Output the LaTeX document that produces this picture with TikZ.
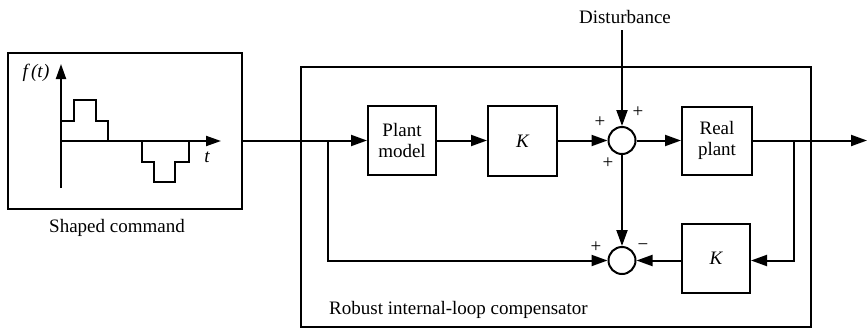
\documentclass[tikz,border=0pt]{standalone}
\usepackage{fontspec}
\setmainfont{Liberation Serif}
\usetikzlibrary{arrows.meta}
\begin{document}
\begin{tikzpicture}[x=1pt,y=-1pt,
  every node/.style={font=\fontsize{19}{21}\selectfont},
  blk/.style={draw,line width=2pt,inner sep=0pt,align=center},
  sumc/.style={draw,circle,line width=2pt,minimum size=27pt,inner sep=0pt},
  arr/.style={line width=2pt,-{Triangle[length=16pt,width=11pt]}},
  lbl/.style={inner sep=0pt}]
\useasboundingbox (0,0) rectangle (867,330);
% boxes
\node[blk,minimum width=234pt,minimum height=156pt] (cmd) at (125,131) {};
\node[blk,minimum width=510pt,minimum height=260pt] (comp) at (556,197) {};
\node[blk,minimum width=68pt,minimum height=69pt] (pm) at (402,140.5) {Plant\\model};
\node[blk,minimum width=69pt,minimum height=70pt] (k1) at (522.5,141) {\itshape K};
\node[sumc] (s1) at (622,140.5) {};
\node[blk,minimum width=70pt,minimum height=68pt] (rp) at (717,140.5) {Real\\plant};
\node[sumc] (s2) at (622,260.5) {};
\node[blk,minimum width=68pt,minimum height=69pt] (k2) at (716,258) {\itshape K};
% labels
\node[lbl] (cmdlbl) at (117,228) {Shaped command};
\node[lbl,anchor=west] (complbl) at (329,310) {Robust internal-loop compensator};
\node[lbl] (dist) at (625,17) {Disturbance};
\coordinate (dtop) at (622,30);
\coordinate (out) at (867,140.5);
\coordinate (jl) at (328,140.5);
\coordinate (jr) at (794,140.5);
% sign labels
\node[lbl] (p1) at (600,122) {+};
\node[lbl] (p2) at (638,112) {+};
\node[lbl] (p3) at (608,163) {+};
\node[lbl] (p4) at (596,247) {+};
\node[lbl] (m1) at (643,247) {−};
% connectors
\draw[arr] (cmd.east |- pm.west) -- (pm.west);
\draw[arr] (pm.east) -- (k1.west |- pm.east);
\draw[arr] (k1.east |- s1.west) -- (s1.west);
\draw[arr] (s1.east) -- (rp.west);
\draw[arr] (rp.east) -- (out);
\draw[arr] (dtop) -- (s1.north);
\draw[arr] (s1.south) -- (s2.north);
\draw[arr] (jl) |- (s2.west);
\draw[arr] (jr) |- (k2.east |- s2.east);
\draw[arr] (k2.west |- s2.east) -- (s2.east);
% graph inside command box
\coordinate (o) at (61,141);
\draw[line width=2pt,-{Triangle[length=15pt,width=10pt]}] (61,188) -- (61,64);
\draw[line width=2pt,-{Triangle[length=15pt,width=10pt]}] (o) -- (221,141);
\node[lbl,font=\fontsize{19}{21}\selectfont\itshape] (ft) at (36,73) {f\,(t\/)};
\node[lbl,font=\fontsize{19}{21}\selectfont\itshape] (tl) at (207,157) {t};
\draw[line width=1.3pt] (61,121) -- (74,121) -- (74,100) -- (96,100) -- (96,121) -- (108,121) -- (108,141);
\draw[line width=1.3pt] (142,141) -- (142,162) -- (154,162) -- (154,182) -- (175,182) -- (175,162) -- (189,162) -- (189,141);
\end{tikzpicture}
\end{document}
